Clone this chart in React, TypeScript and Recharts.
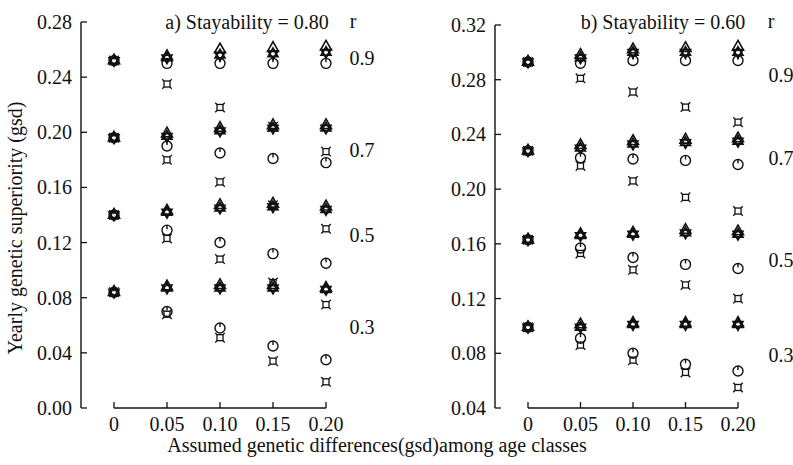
import React from 'react';
import { ScatterChart, Scatter, XAxis, YAxis, ReferenceLine } from 'recharts';

const xLevels = [0, 0.05, 0.1, 0.15, 0.2];
const xTickLabels = ['0', '0.05', '0.10', '0.15', '0.20'];
const rLabels = ['0.9', '0.7', '0.5', '0.3'];

// a) Stayability = 0.80 -- one row per r (0.9, 0.7, 0.5, 0.3)
const aTriangle = [
  [0.252, 0.255, 0.260, 0.261, 0.262],
  [0.196, 0.199, 0.203, 0.205, 0.205],
  [0.140, 0.143, 0.147, 0.148, 0.146],
  [0.084, 0.088, 0.089, 0.089, 0.087],
];
const aStar = [
  [0.252, 0.254, 0.256, 0.257, 0.258],
  [0.196, 0.197, 0.201, 0.203, 0.203],
  [0.140, 0.142, 0.145, 0.146, 0.144],
  [0.084, 0.087, 0.087, 0.087, 0.086],
];
const aCircle = [
  [0.252, 0.250, 0.250, 0.250, 0.250],
  [0.196, 0.190, 0.185, 0.181, 0.178],
  [0.140, 0.129, 0.120, 0.112, 0.105],
  [0.084, 0.070, 0.058, 0.045, 0.035],
];
const aBox = [
  [0.252, 0.235, 0.218, 0.204, 0.186],
  [0.196, 0.180, 0.164, 0.147, 0.130],
  [0.140, 0.123, 0.108, 0.091, 0.075],
  [0.084, 0.068, 0.051, 0.034, 0.019],
];
const aTicks = [0, 0.04, 0.08, 0.12, 0.16, 0.2, 0.24, 0.28];

// b) Stayability = 0.60
const bTriangle = [
  [0.293, 0.298, 0.302, 0.303, 0.304],
  [0.228, 0.232, 0.235, 0.236, 0.237],
  [0.163, 0.167, 0.168, 0.170, 0.169],
  [0.099, 0.101, 0.102, 0.102, 0.102],
];
const bStar = [
  [0.293, 0.296, 0.300, 0.300, 0.300],
  [0.228, 0.230, 0.233, 0.234, 0.235],
  [0.163, 0.166, 0.167, 0.168, 0.167],
  [0.099, 0.099, 0.101, 0.101, 0.101],
];
const bCircle = [
  [0.293, 0.292, 0.294, 0.294, 0.294],
  [0.228, 0.223, 0.222, 0.221, 0.218],
  [0.163, 0.157, 0.150, 0.145, 0.142],
  [0.099, 0.091, 0.080, 0.072, 0.067],
];
const bBox = [
  [0.293, 0.281, 0.271, 0.260, 0.249],
  [0.228, 0.217, 0.206, 0.194, 0.184],
  [0.163, 0.153, 0.141, 0.130, 0.120],
  [0.099, 0.086, 0.075, 0.066, 0.055],
];
const bTicks = [0.04, 0.08, 0.12, 0.16, 0.2, 0.24, 0.28, 0.32];

const ink = '#111';
const font = '"Liberation Serif", "Times New Roman", serif';

const toPoints = (rows: number[][]) =>
  rows.flatMap(row => row.map((y, i) => ({ x: xLevels[i], y })));

const TriangleMark = ({ cx, cy }: any) => (
  <polygon
    points={`${cx},${cy - 6.5} ${cx + 5.5},${cy + 3.2} ${cx - 5.5},${cy + 3.2}`}
    fill="none" stroke={ink} strokeWidth={1.6}
  />
);

const StarMark = ({ cx, cy }: any) => {
  const r = 5.5, h = 4.76;
  return (
    <g fill="none" stroke={ink} strokeWidth={1.9}>
      <polygon points={`${cx},${cy - r} ${cx + h},${cy + r / 2} ${cx - h},${cy + r / 2}`} />
      <polygon points={`${cx},${cy + r} ${cx + h},${cy - r / 2} ${cx - h},${cy - r / 2}`} />
    </g>
  );
};

const CircleMark = ({ cx, cy }: any) => (
  <g fill="none" stroke={ink} strokeWidth={1.4}>
    <circle cx={cx} cy={cy} r={5} />
    <line x1={cx} x2={cx} y1={cy - 5} y2={cy - 1} />
  </g>
);

const BoxMark = ({ cx, cy }: any) => {
  const s = 3;
  const e = 1.8;
  return (
    <g fill="none" stroke={ink} strokeWidth={1.3}>
      <rect x={cx - s} y={cy - s} width={2 * s} height={2 * s} />
      <line x1={cx - s} y1={cy - s} x2={cx - s - e} y2={cy - s - e} />
      <line x1={cx + s} y1={cy - s} x2={cx + s + e} y2={cy - s - e} />
      <line x1={cx - s} y1={cy + s} x2={cx - s - e} y2={cy + s + e} />
      <line x1={cx + s} y1={cy + s} x2={cx + s + e} y2={cy + s + e} />
    </g>
  );
};

const YTick = ({ x, y, payload }: any) => (
  <g>
    <line x1={x} x2={x + 6} y1={y} y2={y} stroke={ink} strokeWidth={1.3} />
    <text x={x - 9} y={y} dy={7} textAnchor="end" fontSize={20} fontFamily={font} fill={ink}>
      {Number(payload.value).toFixed(2)}
    </text>
  </g>
);

const XTick = ({ x, y, payload }: any) => {
  const idx = xLevels.findIndex(v => Math.abs(v - payload.value) < 1e-9);
  return (
    <g>
      <line x1={x} x2={x} y1={y} y2={y - 6} stroke={ink} strokeWidth={1.3} />
      <text x={x} y={y + 23} textAnchor="middle" fontSize={20} fontFamily={font} fill={ink}>
        {idx >= 0 ? xTickLabels[idx] : payload.value}
      </text>
    </g>
  );
};

interface PanelProps {
  width: number;
  yWidth: number;
  top: number;
  right: number;
  padRight: number;
  ticks: number[];
  tri: number[][];
  star: number[][];
  circ: number[][];
  box: number[][];
}

const Panel: React.FC<PanelProps> = ({ width, yWidth, top, right, padRight, ticks, tri, star, circ, box }) => {
  const yMin = ticks[0];
  const yMax = ticks[ticks.length - 1];
  return (
    <ScatterChart width={width} height={465} margin={{ top, right, bottom: 27, left: 0 }}>
      <XAxis
        type="number" dataKey="x" domain={[0, 0.2]} ticks={xLevels} interval={0}
        padding={{ left: 33, right: padRight }} axisLine={false} tickLine={false}
        tickSize={0} tickMargin={0} height={30} tick={<XTick />}
      />
      <YAxis
        type="number" dataKey="y" domain={[yMin, yMax]} ticks={ticks} interval={0}
        width={yWidth} axisLine={{ stroke: ink, strokeWidth: 1.4 }} tickLine={false}
        tickSize={0} tickMargin={0} tick={<YTick />} allowDataOverflow
      />
      <ReferenceLine
        segment={[{ x: 0, y: yMin }, { x: 0.2, y: yMin }]}
        stroke={ink} strokeWidth={1.4} ifOverflow="visible"
      />
      <Scatter data={toPoints(box)} shape={(p: any) => <BoxMark {...p} />} isAnimationActive={false} />
      <Scatter data={toPoints(circ)} shape={(p: any) => <CircleMark {...p} />} isAnimationActive={false} />
      <Scatter data={toPoints(star)} shape={(p: any) => <StarMark {...p} />} isAnimationActive={false} />
      <Scatter data={toPoints(tri)} shape={(p: any) => <TriangleMark {...p} />} isAnimationActive={false} />
    </ScatterChart>
  );
};

const txt = { fontFamily: font, fontSize: 20, fill: ink };

const App: React.FC = () => {
  const aRowY = [65, 157, 242, 334];
  const bRowY = [82, 165, 267, 362];
  return (
    <div style={{ position: 'absolute', left: 0, top: 0, width: 793, height: 465, background: '#fff' }}>
      <div style={{ position: 'absolute', left: 0, top: 0 }}>
        <Panel width={400} yWidth={81} top={22} right={55} padRight={19} ticks={aTicks}
          tri={aTriangle} star={aStar} circ={aCircle} box={aBox} />
      </div>
      <div style={{ position: 'absolute', left: 400, top: 0 }}>
        <Panel width={393} yWidth={95} top={25} right={45} padRight={10} ticks={bTicks}
          tri={bTriangle} star={bStar} circ={bCircle} box={bBox} />
      </div>
      <svg width={793} height={465} style={{ position: 'absolute', left: 0, top: 0, pointerEvents: 'none' }}>
        <text x={247} y={29} textAnchor="middle" {...txt}>a) Stayability = 0.80</text>
        <text x={663} y={29} textAnchor="middle" {...txt}>b) Stayability = 0.60</text>
        <text x={353} y={28} textAnchor="middle" {...txt}>r</text>
        <text x={771} y={28} textAnchor="middle" {...txt}>r</text>
        {rLabels.map((r, i) => (
          <text key={'a' + r} x={362} y={aRowY[i]} textAnchor="middle" {...txt}>{r}</text>
        ))}
        {rLabels.map((r, i) => (
          <text key={'b' + r} x={781} y={bRowY[i]} textAnchor="middle" {...txt}>{r}</text>
        ))}
        <text x={0} y={0} textAnchor="middle" transform="translate(22, 228) rotate(-90)" {...txt}>
          Yearly genetic superiority (gsd)
        </text>
        <text x={377} y={452} textAnchor="middle" {...txt}>
          Assumed genetic differences(gsd)among age classes
        </text>
      </svg>
    </div>
  );
};

export default App;
